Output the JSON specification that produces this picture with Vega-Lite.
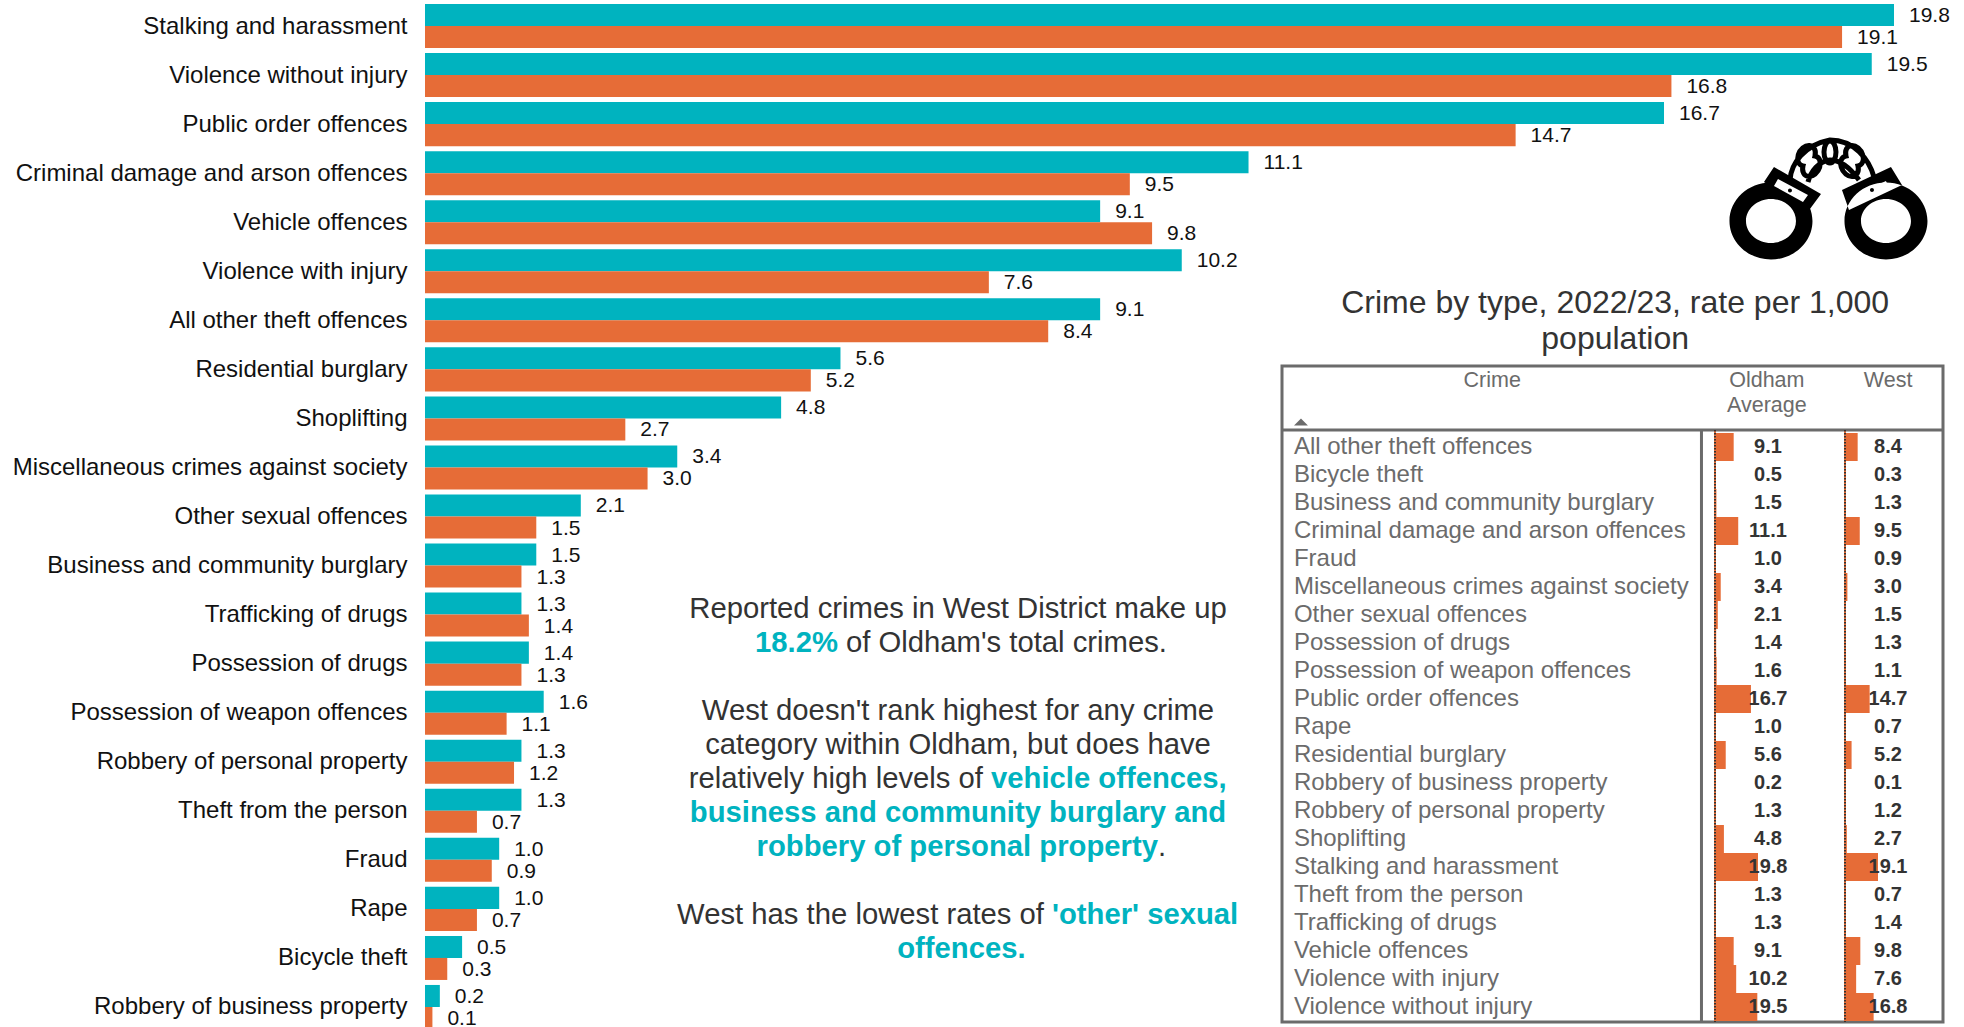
{
"$schema":"https://vega.github.io/schema/vega-lite/v6.json",
"width":1539,"height":1027,"autosize":"none","padding":{"left":425,"top":0,"right":0,"bottom":0},
"background":"white",
"config":{"view":{"stroke":null},"font":"Liberation Sans","text":{"font":"Liberation Sans"}},
"datasets":{
"crimes":[
{"crime":"Stalking and harassment","area":"Oldham Average","rate":19.8},{"crime":"Stalking and harassment","area":"West","rate":19.1},
{"crime":"Violence without injury","area":"Oldham Average","rate":19.5},{"crime":"Violence without injury","area":"West","rate":16.8},
{"crime":"Public order offences","area":"Oldham Average","rate":16.7},{"crime":"Public order offences","area":"West","rate":14.7},
{"crime":"Criminal damage and arson offences","area":"Oldham Average","rate":11.1},{"crime":"Criminal damage and arson offences","area":"West","rate":9.5},
{"crime":"Vehicle offences","area":"Oldham Average","rate":9.1},{"crime":"Vehicle offences","area":"West","rate":9.8},
{"crime":"Violence with injury","area":"Oldham Average","rate":10.2},{"crime":"Violence with injury","area":"West","rate":7.6},
{"crime":"All other theft offences","area":"Oldham Average","rate":9.1},{"crime":"All other theft offences","area":"West","rate":8.4},
{"crime":"Residential burglary","area":"Oldham Average","rate":5.6},{"crime":"Residential burglary","area":"West","rate":5.2},
{"crime":"Shoplifting","area":"Oldham Average","rate":4.8},{"crime":"Shoplifting","area":"West","rate":2.7},
{"crime":"Miscellaneous crimes against society","area":"Oldham Average","rate":3.4},{"crime":"Miscellaneous crimes against society","area":"West","rate":3.0},
{"crime":"Other sexual offences","area":"Oldham Average","rate":2.1},{"crime":"Other sexual offences","area":"West","rate":1.5},
{"crime":"Business and community burglary","area":"Oldham Average","rate":1.5},{"crime":"Business and community burglary","area":"West","rate":1.3},
{"crime":"Trafficking of drugs","area":"Oldham Average","rate":1.3},{"crime":"Trafficking of drugs","area":"West","rate":1.4},
{"crime":"Possession of drugs","area":"Oldham Average","rate":1.4},{"crime":"Possession of drugs","area":"West","rate":1.3},
{"crime":"Possession of weapon offences","area":"Oldham Average","rate":1.6},{"crime":"Possession of weapon offences","area":"West","rate":1.1},
{"crime":"Robbery of personal property","area":"Oldham Average","rate":1.3},{"crime":"Robbery of personal property","area":"West","rate":1.2},
{"crime":"Theft from the person","area":"Oldham Average","rate":1.3},{"crime":"Theft from the person","area":"West","rate":0.7},
{"crime":"Fraud","area":"Oldham Average","rate":1.0},{"crime":"Fraud","area":"West","rate":0.9},
{"crime":"Rape","area":"Oldham Average","rate":1.0},{"crime":"Rape","area":"West","rate":0.7},
{"crime":"Bicycle theft","area":"Oldham Average","rate":0.5},{"crime":"Bicycle theft","area":"West","rate":0.3},
{"crime":"Robbery of business property","area":"Oldham Average","rate":0.2},{"crime":"Robbery of business property","area":"West","rate":0.1}
],
"notes":[
{"line":1,"run":"centre-plain","text":"Reported crimes in West District make up"},
{"line":2,"run":"l2-bold","text":"18.2%"},
{"line":2,"run":"l2-plain","text":"of Oldham's total crimes."},
{"line":4,"run":"centre-plain","text":"West doesn't rank highest for any crime"},
{"line":5,"run":"centre-plain","text":"category within Oldham, but does have"},
{"line":6,"run":"l6-plain","text":"relatively high levels of"},
{"line":6,"run":"l6-bold","text":"vehicle offences,"},
{"line":7,"run":"centre-bold","text":"business and community burglary and"},
{"line":8,"run":"l8-bold","text":"robbery of personal property"},
{"line":8,"run":"l8-plain","text":"."},
{"line":10,"run":"l10-plain","text":"West has the lowest rates of"},
{"line":10,"run":"l10-bold","text":"'other' sexual"},
{"line":11,"run":"l11-bold","text":"offences."}
]
},
"resolve":{"scale":{"x":"independent","y":"independent","color":"independent"}},
"layer":[
{
"data":{"name":"crimes"},
"encoding":{
"y":{"field":"crime","type":"nominal","sort":["Stalking and harassment","Violence without injury","Public order offences","Criminal damage and arson offences","Vehicle offences","Violence with injury","All other theft offences","Residential burglary","Shoplifting","Miscellaneous crimes against society","Other sexual offences","Business and community burglary","Trafficking of drugs","Possession of drugs","Possession of weapon offences","Robbery of personal property","Theft from the person","Fraud","Rape","Bicycle theft","Robbery of business property"],
"scale":{"range":[1.5,1031.5],"paddingInner":0.102,"paddingOuter":0.051},
"axis":{"title":null,"domain":false,"ticks":false,"labelPadding":18,"labelFontSize":24,"labelOffset":0.5,"labelColor":"#111111","labelFont":"Liberation Sans","labelLimit":500,"grid":false}},
"yOffset":{"field":"area","type":"nominal","sort":["Oldham Average","West"],"scale":{"paddingInner":0,"paddingOuter":0}},
"x":{"field":"rate","type":"quantitative","scale":{"domain":[0,19.8],"range":[0,1469]},"axis":null}
},
"layer":[
{"mark":{"type":"bar"},"encoding":{"color":{"field":"area","type":"nominal","scale":{"domain":["Oldham Average","West"],"range":["#00B3BF","#E66C37"]},"legend":null}}},
{"mark":{"type":"text","align":"left","baseline":"middle","dx":15,"dy":1,"fontSize":21,"color":"#111111"},"encoding":{"text":{"field":"rate","type":"quantitative","format":".1f"}}}
]
},
{
"data":{"name":"notes"},
"encoding":{"y":{"field":"line","type":"quantitative","scale":{"domain":[1,11],"range":[609,949]},"axis":null},"text":{"field":"text"}},
"layer":[
{"transform":[{"filter":"datum.run==='centre-plain'"}],"mark":{"type":"text","align":"center","baseline":"middle","fontSize":29.25,"color":"#333333"},"encoding":{"x":{"datum":0.5009,"type":"quantitative","scale":{"domain":[0,1],"range":[252,813]},"axis":null}}},
{"transform":[{"filter":"datum.run==='centre-bold'"}],"mark":{"type":"text","align":"center","baseline":"middle","fontSize":29.25,"fontWeight":"bold","color":"#00B3BF"},"encoding":{"x":{"datum":0.5009,"type":"quantitative"}}},
{"transform":[{"filter":"datum.run==='l11-bold'"}],"mark":{"type":"text","align":"center","baseline":"middle","fontSize":29.25,"fontWeight":"bold","color":"#00B3BF"},"encoding":{"x":{"datum":0.507,"type":"quantitative"}}},
{"transform":[{"filter":"datum.run==='l2-bold'"}],"mark":{"type":"text","align":"right","dx":-4,"baseline":"middle","fontSize":29.25,"fontWeight":"bold","color":"#00B3BF"},"encoding":{"x":{"datum":0.2941,"type":"quantitative"}}},
{"transform":[{"filter":"datum.run==='l2-plain'"}],"mark":{"type":"text","align":"left","dx":4,"baseline":"middle","fontSize":29.25,"color":"#333333"},"encoding":{"x":{"datum":0.2941,"type":"quantitative"}}},
{"transform":[{"filter":"datum.run==='l6-plain'"}],"mark":{"type":"text","align":"right","dx":-4,"baseline":"middle","fontSize":29.25,"color":"#333333"},"encoding":{"x":{"datum":0.5526,"type":"quantitative"}}},
{"transform":[{"filter":"datum.run==='l6-bold'"}],"mark":{"type":"text","align":"left","dx":4,"baseline":"middle","fontSize":29.25,"fontWeight":"bold","color":"#00B3BF"},"encoding":{"x":{"datum":0.5526,"type":"quantitative"}}},
{"transform":[{"filter":"datum.run==='l8-bold'"}],"mark":{"type":"text","align":"right","baseline":"middle","fontSize":29.25,"fontWeight":"bold","color":"#00B3BF"},"encoding":{"x":{"datum":0.8574,"type":"quantitative"}}},
{"transform":[{"filter":"datum.run==='l8-plain'"}],"mark":{"type":"text","align":"left","baseline":"middle","fontSize":29.25,"color":"#333333"},"encoding":{"x":{"datum":0.8574,"type":"quantitative"}}},
{"transform":[{"filter":"datum.run==='l10-plain'"}],"mark":{"type":"text","align":"right","dx":-4,"baseline":"middle","fontSize":29.25,"color":"#333333"},"encoding":{"x":{"datum":0.6613,"type":"quantitative"}}},
{"transform":[{"filter":"datum.run==='l10-bold'"}],"mark":{"type":"text","align":"left","dx":4,"baseline":"middle","fontSize":29.25,"fontWeight":"bold","color":"#00B3BF"},"encoding":{"x":{"datum":0.6613,"type":"quantitative"}}}
]
},
{
"data":{"values":[{"line":1,"text":"Crime by type, 2022/23, rate per 1,000"},{"line":2,"text":"population"}]},
"mark":{"type":"text","align":"center","baseline":"middle","fontSize":32,"color":"#333333"},
"encoding":{"x":{"datum":0.504,"type":"quantitative","scale":{"domain":[0,1],"range":[857,1518]},"axis":null},"y":{"field":"line","type":"quantitative","scale":{"domain":[1,2],"range":[303,339]},"axis":null},"text":{"field":"text"}}
},
{
"data":{"values":[{"element":"handcuffs"}]},
"encoding":{"x":{"datum":0.8275,"type":"quantitative","scale":{"domain":[0,1],"range":[857,1518]},"axis":null},"y":{"datum":-0.2546,"type":"quantitative","scale":{"domain":[0,1],"range":[366,1022]},"axis":null}},
"layer":[
{"mark":{"type":"point","filled":true,"opacity":1,"size":4,"color":"#000000","shape":"M-99.5,22 A41.5,38.5 0 1 1 -16.5,22 A41.5,38.5 0 1 1 -99.5,22Z M-83,22 A25,22 0 1 0 -33,22 A25,22 0 1 0 -83,22Z M15.5,22 A41.5,38.5 0 1 1 98.5,22 A41.5,38.5 0 1 1 15.5,22Z M32,22 A25,22 0 1 0 82,22 A25,22 0 1 0 32,22Z M-55,-32 L-8,-5 L-22,14 L-65,-17Z M62,-32 L13,-9 L20,11 L73,-14Z"}},
{"mark":{"type":"point","filled":true,"opacity":1,"size":4,"color":"#ffffff","shape":"M-51,-20 L-21,-4 L-26,3 L-55,-13Z M29,-5 L57,-18 L60,-11 L32,1Z"}},
{"mark":{"type":"point","filled":true,"opacity":1,"size":4,"color":"#000000","shape":"M-41,-8.5 A2,2 0 1 1 -37,-8.5 A2,2 0 1 1 -41,-8.5Z M41,-9 A2,2 0 1 1 45,-9 A2,2 0 1 1 41,-9Z"}},
{"mark":{"type":"point","filled":false,"opacity":1,"size":4,"stroke":"#000000","strokeWidth":5,"shape":"M-39,-19 C-38,-35 -25,-54 1,-59 C25,-59 40,-40 45,-22 M-21,-17 C-18,-28 -10,-38 1,-39 C12,-39 22,-30 30,-19 M-26,-33 A8,11 30 1 1 -14,-43 A8,11 30 1 1 -26,-33Z M-5,-47 A6,11 0 1 1 7,-47 A6,11 0 1 1 -5,-47Z M17,-43 A8,11 -30 1 1 29,-33 A8,11 -30 1 1 17,-43Z"}}
]
},
{
"data":{"values":[{"element":"frame"}]},
"layer":[
{"mark":{"type":"rect","fill":"#ffffff","fillOpacity":0,"stroke":"#6B6B6B","strokeWidth":3},"encoding":{"x":{"datum":0,"type":"quantitative","scale":{"domain":[0,1],"range":[857,1518]},"axis":null},"x2":{"datum":1},"y":{"datum":0,"type":"quantitative","scale":{"domain":[0,1],"range":[366,1022]},"axis":null},"y2":{"datum":1}}},
{"mark":{"type":"rule","stroke":"#6B6B6B","strokeWidth":3},"encoding":{"x":{"datum":0,"type":"quantitative"},"x2":{"datum":1},"y":{"datum":0.0976,"type":"quantitative"}}},
{"mark":{"type":"rule","stroke":"#6B6B6B","strokeWidth":3},"encoding":{"x":{"datum":0.6346,"type":"quantitative"},"y":{"datum":0.0976,"type":"quantitative"},"y2":{"datum":1}}},
{"mark":{"type":"point","filled":true,"opacity":1,"size":196,"color":"#6B6B6B","shape":"M-1,0.5 L1,0.5 L0,-0.5Z"},"encoding":{"x":{"datum":0.0287,"type":"quantitative"},"y":{"datum":0.0854,"type":"quantitative"}}}
]
},
{
"data":{"values":[{"column":"Crime","line":1,"text":"Crime"},{"column":"Oldham Average","line":1,"text":"Oldham"},{"column":"Oldham Average","line":2,"text":"Average"},{"column":"West","line":1,"text":"West"}]},
"encoding":{"y":{"field":"line","type":"quantitative","scale":{"domain":[1,2],"range":[381,406]},"axis":null},"text":{"field":"text"}},
"layer":[
{"transform":[{"filter":"datum.column==='Crime'"}],"mark":{"type":"text","align":"center","baseline":"middle","fontSize":21.5,"color":"#6B6B6B"},"encoding":{"x":{"datum":0.318,"type":"quantitative","scale":{"domain":[0,1],"range":[857,1518]},"axis":null}}},
{"transform":[{"filter":"datum.column==='Oldham Average'"}],"mark":{"type":"text","align":"center","baseline":"middle","fontSize":21.5,"color":"#6B6B6B"},"encoding":{"x":{"datum":0.7335,"type":"quantitative"}}},
{"transform":[{"filter":"datum.column==='West'"}],"mark":{"type":"text","align":"center","baseline":"middle","fontSize":21.5,"color":"#6B6B6B"},"encoding":{"x":{"datum":0.917,"type":"quantitative"}}}
]
},
{
"data":{"name":"crimes"},
"transform":[{"filter":"datum.area==='Oldham Average'"}],
"mark":{"type":"bar","color":"#E66C37"},
"encoding":{"y":{"field":"crime","type":"nominal","sort":"ascending","scale":{"range":[433,1021],"paddingInner":0,"paddingOuter":0},"axis":null},"x":{"field":"rate","type":"quantitative","scale":{"domain":[1.1,19.8],"range":[1290.5,1333],"clamp":true,"zero":false},"axis":null}}
},
{
"data":{"name":"crimes"},
"transform":[{"filter":"datum.area==='West'"}],
"mark":{"type":"bar","color":"#E66C37"},
"encoding":{"y":{"field":"crime","type":"nominal","sort":"ascending","scale":{"range":[433,1021],"paddingInner":0,"paddingOuter":0},"axis":null},"x":{"field":"rate","type":"quantitative","scale":{"domain":[2,19.1],"range":[1420.5,1453],"clamp":true,"zero":false},"axis":null}}
},
{
"data":{"values":[{"column":"Oldham Average"},{"column":"West"}]},
"encoding":{"x":{"field":"column","type":"nominal","scale":{"type":"point","domain":["Oldham Average","West"],"range":[1290,1420],"padding":0},"axis":null},"y":{"datum":0.0976,"type":"quantitative","scale":{"domain":[0,1],"range":[366,1022]},"axis":null},"y2":{"datum":1}},
"layer":[
{"mark":{"type":"rule","stroke":"#E66C37","strokeWidth":2}},
{"mark":{"type":"rule","stroke":"#333333","strokeWidth":2,"strokeDash":[1.5,1.5]}}
]
},
{
"data":{"name":"crimes"},
"transform":[{"filter":"datum.area==='West'"}],
"mark":{"type":"text","align":"left","baseline":"middle","fontSize":24,"color":"#6B6B6B"},
"encoding":{"x":{"datum":0.018,"type":"quantitative","scale":{"domain":[0,1],"range":[857,1518]},"axis":null},"y":{"field":"crime","type":"nominal","sort":"ascending","scale":{"range":[433,1021],"paddingInner":0,"paddingOuter":0},"axis":null},"text":{"field":"crime"}}
},
{
"data":{"name":"crimes"},
"mark":{"type":"text","align":"center","baseline":"middle","fontSize":20,"fontWeight":"bold","color":"#333333"},
"encoding":{"x":{"field":"area","type":"nominal","scale":{"type":"point","domain":["Oldham Average","West"],"range":[1343,1463],"padding":0},"axis":null},"y":{"field":"crime","type":"nominal","sort":"ascending","scale":{"range":[433,1021],"paddingInner":0,"paddingOuter":0},"axis":null},"text":{"field":"rate","type":"quantitative","format":".1f"}}
}
]
}
